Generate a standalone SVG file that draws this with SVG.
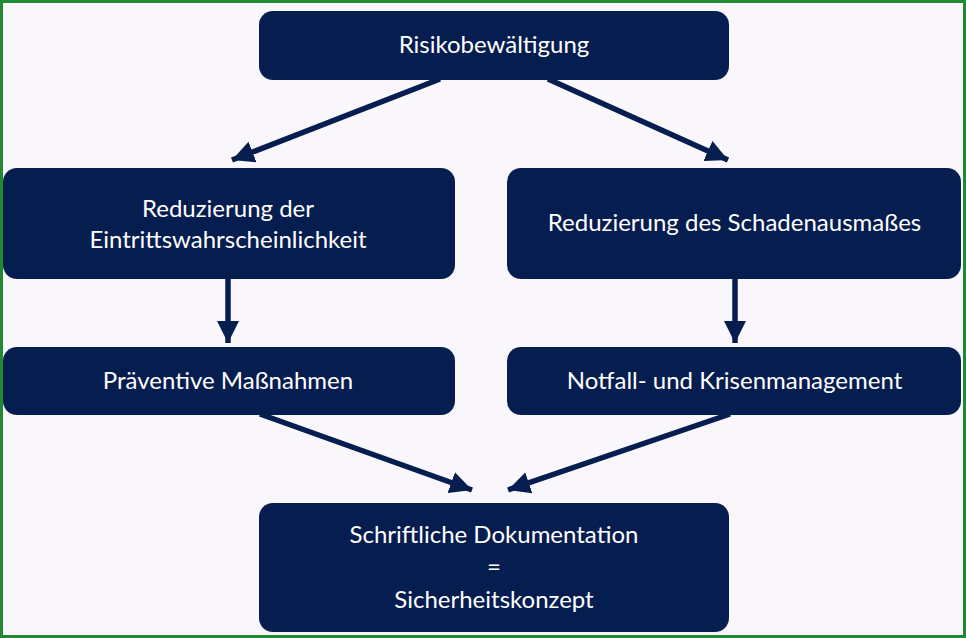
<svg xmlns="http://www.w3.org/2000/svg" width="966" height="638" viewBox="0 0 966 638">
<style>
.box{fill:#061d50}
.t{fill:#ffffff;font-family:Lato,"Open Sans","Liberation Sans",sans-serif;font-size:24px;text-anchor:middle}
.c{stroke:#061d50;stroke-width:5.5;fill:none}
</style>
<defs>
<marker id="ah" viewBox="0 0 10 10" refX="10" refY="5" markerWidth="4" markerHeight="4" markerUnits="strokeWidth" orient="auto">
<path d="M0,0 L10,5 L0,10 z" fill="#061d50"/>
</marker>
</defs>
<rect x="0" y="0" width="966" height="638" fill="#f9f7fb"/>
<rect x="1.5" y="1.5" width="963" height="635" fill="none" stroke="#1f8a32" stroke-width="3"/>
<g id="connectors">
<line class="c" x1="440" y1="79" x2="232" y2="160" marker-end="url(#ah)"/>
<line class="c" x1="548" y1="79" x2="728" y2="160" marker-end="url(#ah)"/>
<line class="c" x1="228" y1="278" x2="228" y2="343" marker-end="url(#ah)"/>
<line class="c" x1="735" y1="278" x2="735" y2="343" marker-end="url(#ah)"/>
<line class="c" x1="260" y1="414" x2="472" y2="490" marker-end="url(#ah)"/>
<line class="c" x1="730" y1="414" x2="508" y2="490" marker-end="url(#ah)"/>
</g>
<g id="n1"><rect class="box" x="259" y="11" width="470" height="69" rx="14"/><text class="t" x="494" y="53">Risikobewältigung</text></g>
<g id="n2"><rect class="box" x="3" y="168" width="452" height="111" rx="14"/><text class="t" x="228" y="217">Reduzierung der</text><text class="t" x="228" y="248">Eintrittswahrscheinlichkeit</text></g>
<g id="n3"><rect class="box" x="507" y="168" width="454" height="111" rx="14"/><text class="t" x="734.5" y="231">Reduzierung des Schadenausmaßes</text></g>
<g id="n4"><rect class="box" x="3" y="347" width="452" height="68" rx="14"/><text class="t" x="228" y="389">Präventive Maßnahmen</text></g>
<g id="n5"><rect class="box" x="507" y="347" width="454" height="68" rx="14"/><text class="t" x="734.5" y="389">Notfall- und Krisenmanagement</text></g>
<g id="n6"><rect class="box" x="259" y="503" width="470" height="129" rx="14"/><text class="t" x="494" y="543">Schriftliche Dokumentation</text><text class="t" x="494" y="575">=</text><text class="t" x="494" y="608">Sicherheitskonzept</text></g>
</svg>
